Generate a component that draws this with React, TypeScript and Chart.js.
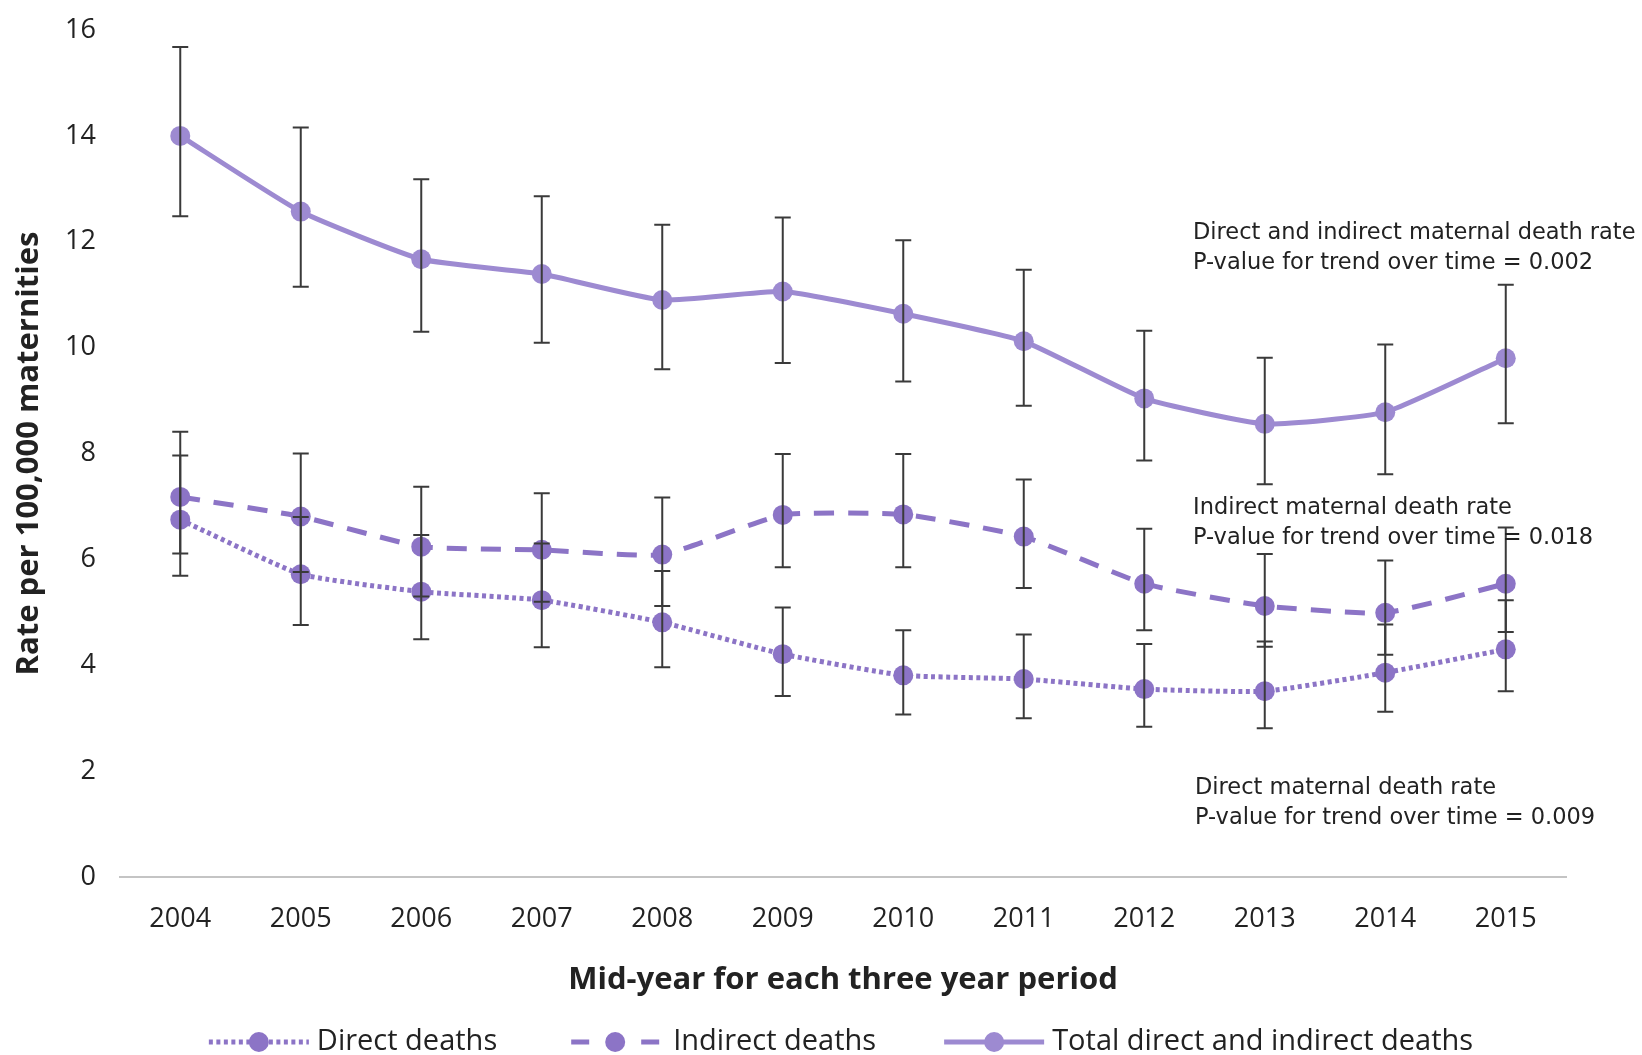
import React, { useEffect, useRef } from "react";
import { Chart, registerables } from "chart.js";

Chart.register(...registerables);

const years = ["2004", "2005", "2006", "2007", "2008", "2009", "2010", "2011", "2012", "2013", "2014", "2015"];

const directRate = [6.75, 5.72, 5.39, 5.23, 4.81, 4.21, 3.81, 3.74, 3.55, 3.51, 3.86, 4.3];
const directUpper = [7.96, 6.8, 6.46, 6.3, 5.78, 5.09, 4.66, 4.58, 4.4, 4.45, 4.77, 5.23];
const directLower = [5.69, 4.76, 4.49, 4.34, 3.96, 3.42, 3.07, 3.0, 2.84, 2.81, 3.12, 3.51];

const indirectRate = [7.18, 6.81, 6.24, 6.18, 6.09, 6.84, 6.85, 6.43, 5.54, 5.12, 4.99, 5.54];
const indirectUpper = [8.41, 8.0, 7.37, 7.25, 7.17, 7.99, 7.99, 7.51, 6.58, 6.1, 5.98, 6.6];
const indirectLower = [6.11, 5.76, 5.3, 5.2, 5.12, 5.85, 5.85, 5.46, 4.66, 4.35, 4.2, 4.63];

const totalRate = [14.0, 12.57, 11.67, 11.39, 10.9, 11.06, 10.64, 10.12, 9.04, 8.56, 8.78, 9.8];
const totalUpper = [15.68, 14.16, 13.18, 12.86, 12.32, 12.46, 12.03, 11.47, 10.32, 9.81, 10.06, 11.19];
const totalLower = [12.48, 11.15, 10.3, 10.09, 9.59, 9.71, 9.36, 8.9, 7.87, 7.42, 7.61, 8.57];

const seriesNames = ["Direct deaths", "Indirect deaths", "Total direct and indirect deaths"];

const noteTotal = ["Direct and indirect maternal death rate", "P-value for trend over time = 0.002"];
const noteIndirect = ["Indirect maternal death rate", "P-value for trend over time = 0.018"];
const noteDirect = ["Direct maternal death rate", "P-value for trend over time = 0.009"];

const yTitle = "Rate per 100,000 maternities";
const xTitle = "Mid-year for each three year period";

const PURPLE = "#8c74c6";
const PURPLE_LIGHT = "#9d8ad1";
const TEXT = "#222222";
const BAR = "#3a3a3a";
const FONT = '"Open Sans", "Noto Sans", sans-serif';
const NOTE_FONT = '22.5px "DejaVu Sans", sans-serif';

const DASHES = [
  [4, 3.5],
  [20, 14],
  [],
];

const errorBarsPlugin = {
  id: "errorBars",
  afterDatasetsDraw(chart: any) {
    const ctx = chart.ctx;
    const xs = chart.scales.x;
    const ys = chart.scales.y;
    const groups = [
      [directUpper, directLower],
      [indirectUpper, indirectLower],
      [totalUpper, totalLower],
    ];
    ctx.save();
    ctx.strokeStyle = BAR;
    ctx.lineWidth = 2;
    ctx.setLineDash([]);
    groups.forEach(([hi, lo]) => {
      hi.forEach((h: number, i: number) => {
        const x = xs.getPixelForValue(i);
        const yh = ys.getPixelForValue(h);
        const yl = ys.getPixelForValue(lo[i]);
        ctx.beginPath();
        ctx.moveTo(x, yh);
        ctx.lineTo(x, yl);
        ctx.moveTo(x - 8, yh);
        ctx.lineTo(x + 8, yh);
        ctx.moveTo(x - 8, yl);
        ctx.lineTo(x + 8, yl);
        ctx.stroke();
      });
    });
    ctx.restore();
  },
};

const notesLegendPlugin = {
  id: "notesLegend",
  afterDraw(chart: any) {
    const ctx = chart.ctx;
    ctx.save();
    ctx.fillStyle = TEXT;
    ctx.font = NOTE_FONT;
    ctx.textAlign = "left";
    ctx.textBaseline = "middle";
    const notes: [string[], number, number][] = [
      [noteTotal, 1193, 233],
      [noteIndirect, 1193, 508],
      [noteDirect, 1195, 788],
    ];
    notes.forEach(([lines, x, y]) => {
      lines.forEach((t, k) => ctx.fillText(t, x, y + k * 30));
    });

    ctx.font = `29px ${FONT}`;
    const sampleW = 100;
    const textGap = 8;
    const itemGap = 68;
    const widths = seriesNames.map((n) => sampleW + textGap + ctx.measureText(n).width);
    const total = widths.reduce((a, b) => a + b, 0) + itemGap * (seriesNames.length - 1);
    let x = 841 - total / 2;
    const y = 1042;
    seriesNames.forEach((name, i) => {
      const color = i === 2 ? PURPLE_LIGHT : PURPLE;
      ctx.strokeStyle = color;
      ctx.lineWidth = 5;
      ctx.lineCap = "butt";
      const cx = x + sampleW / 2;
      if (i === 1) {
        ctx.setLineDash([]);
        ctx.beginPath();
        ctx.moveTo(x + 6, y);
        ctx.lineTo(x + 24, y);
        ctx.moveTo(x + sampleW - 24, y);
        ctx.lineTo(x + sampleW - 6, y);
        ctx.stroke();
      } else {
        ctx.setLineDash(DASHES[i]);
        ctx.beginPath();
        ctx.moveTo(x, y);
        ctx.lineTo(x + sampleW, y);
        ctx.stroke();
      }
      ctx.setLineDash([]);
      ctx.fillStyle = color;
      ctx.beginPath();
      ctx.arc(cx, y, 10, 0, Math.PI * 2);
      ctx.fill();
      ctx.fillStyle = TEXT;
      ctx.fillText(name, x + sampleW + textGap, y);
      x += widths[i] + itemGap;
    });
    ctx.restore();
  },
};

export default function App() {
  const ref = useRef<HTMLCanvasElement | null>(null);

  useEffect(() => {
    if (!ref.current) return;
    const mk = (label: string, data: number[], color: string, dash: number[]) => ({
      label,
      data,
      borderColor: color,
      backgroundColor: color,
      borderWidth: 5,
      borderDash: dash,
      pointRadius: 10,
      pointHoverRadius: 10,
      pointBorderWidth: 0,
      pointBackgroundColor: color,
      tension: 0.15,
      fill: false,
    });
    const chart = new Chart(ref.current, {
      type: "line",
      data: {
        labels: years,
        datasets: [
          mk(seriesNames[0], directRate, PURPLE, DASHES[0]),
          mk(seriesNames[1], indirectRate, PURPLE, DASHES[1]),
          mk(seriesNames[2], totalRate, PURPLE_LIGHT, DASHES[2]),
        ],
      },
      options: {
        responsive: false,
        animation: false,
        events: [],
        layout: { padding: { top: 30, right: 76, bottom: 56, left: 0 } },
        plugins: {
          legend: { display: false },
          tooltip: { enabled: false },
          title: { display: false },
        },
        scales: {
          x: {
            offset: true,
            grid: { display: false, drawTicks: false },
            border: { display: true, color: "#c4c4c4", width: 2 },
            ticks: { color: TEXT, font: { family: FONT, size: 27 }, padding: 26, maxRotation: 0 },
            title: {
              display: true,
              text: xTitle,
              color: TEXT,
              font: { family: FONT, size: 31, weight: "bold" },
              padding: { top: 0, bottom: 0 },
            },
            afterFit: (s: any) => {
              s.height = 122;
            },
          },
          y: {
            min: 0,
            max: 16,
            grid: { display: false, drawTicks: false },
            border: { display: false },
            ticks: { stepSize: 2, color: TEXT, font: { family: FONT, size: 27 }, padding: 24 },
            title: {
              display: true,
              text: yTitle,
              color: TEXT,
              font: { family: FONT, size: 31, weight: "bold" },
              padding: { top: 11, bottom: 0 },
            },
            afterFit: (s: any) => {
              s.width = 120;
              s.paddingTop = 0;
              s.paddingBottom = 0;
            },
          },
        },
      },
      plugins: [errorBarsPlugin, notesLegendPlugin],
    } as any);
    return () => chart.destroy();
  }, []);

  return (
    <div style={{ position: "absolute", left: 0, top: 0, width: 1642, height: 1055, background: "#fff" }}>
      <canvas ref={ref} width={1642} height={1055} style={{ display: "block" }} />
    </div>
  );
}
